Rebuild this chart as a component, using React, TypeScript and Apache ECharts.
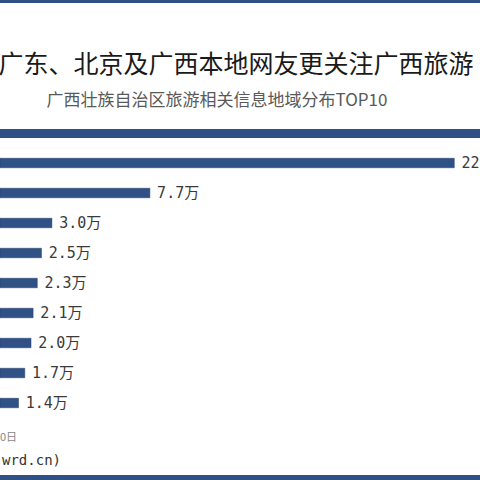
import React, { useEffect, useRef } from "react";
import * as echarts from "echarts";

const categories = ["广西", "广东", "北京", "湖南", "上海", "四川", "浙江", "江苏", "湖北"];
const values = [22.3, 7.7, 3.0, 2.5, 2.3, 2.1, 2.0, 1.7, 1.4];
const titleText = "广东、北京及广西本地网友更关注广西旅游";
const subtitleText = "广西壮族自治区旅游相关信息地域分布TOP10";
const dateNote = "30日";
const sourceNote = "wrd.cn)";

const BLUE = "#2f5185";

export default function App() {
  const ref = useRef<HTMLDivElement>(null);
  useEffect(() => {
    const chart = echarts.init(ref.current!, null, { renderer: "svg" });
    chart.setOption({
      animation: false,
      backgroundColor: "#ffffff",
      grid: { left: 0, right: 21.3, top: 148, bottom: 62, containLabel: false },
      xAxis: {
        type: "value",
        min: 0.5,
        max: 22.5,
        show: false,
      },
      yAxis: {
        type: "category",
        data: categories,
        inverse: true,
        axisLine: { show: false },
        axisTick: { show: false },
        axisLabel: { show: false },
      },
      series: [
        {
          type: "bar",
          data: values,
          barWidth: 10,
          itemStyle: { color: BLUE, borderColor: "#24406b", borderWidth: 0.5 },
          label: {
            show: true,
            position: "right",
            distance: 7,
            formatter: (p: any) => p.value.toFixed(1) + "万",
            fontFamily: "'DejaVu Sans Mono', 'Noto Sans CJK SC', monospace",
            fontSize: 15,
            color: "#3a3a3a",
          },
        },
      ],
      graphic: [
        { type: "rect", shape: { x: 0, y: 0, width: 480, height: 3 }, style: { fill: BLUE } },
        { type: "rect", shape: { x: 0, y: 129, width: 480, height: 9 }, style: { fill: BLUE } },
        { type: "rect", shape: { x: 0, y: 475, width: 480, height: 5 }, style: { fill: BLUE } },
        {
          type: "text",
          x: 236,
          y: 62,
          style: {
            text: titleText,
            fontFamily: "'Noto Sans CJK SC', sans-serif",
            fontSize: 25,
            fill: "#1a1a1a",
            align: "center",
            verticalAlign: "middle",
          },
        },
        {
          type: "text",
          x: 217,
          y: 98,
          style: {
            text: subtitleText,
            fontFamily: "'Noto Sans CJK SC', sans-serif",
            fontSize: 17,
            fill: "#595959",
            align: "center",
            verticalAlign: "middle",
          },
        },
        {
          type: "text",
          x: 17,
          y: 436,
          style: {
            text: dateNote,
            fontFamily: "'Noto Sans CJK SC', sans-serif",
            fontSize: 11,
            fill: "#888888",
            align: "right",
            verticalAlign: "middle",
          },
        },
        {
          type: "text",
          x: 61,
          y: 460,
          style: {
            text: sourceNote,
            fontFamily: "'DejaVu Sans Mono', monospace",
            fontSize: 14,
            fill: "#333333",
            align: "right",
            verticalAlign: "middle",
          },
        },
      ],
    });
    return () => chart.dispose();
  }, []);
  return (
    <div
      ref={ref}
      style={{ position: "absolute", left: 0, top: 0, width: 480, height: 480 }}
    />
  );
}
